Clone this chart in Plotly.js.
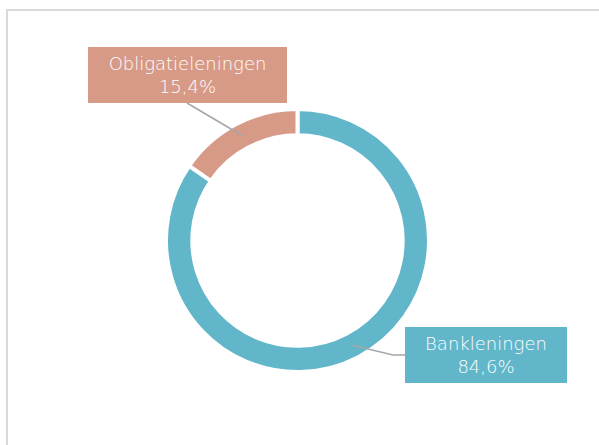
<!DOCTYPE html>
<html><head><meta charset="utf-8">
<script src="https://cdn.plot.ly/plotly-3.0.1.min.js"></script>
<style>html,body{margin:0;padding:0;background:#fff}#chart{width:599px;height:445px}</style>
</head><body><div id="chart"></div>
<script>
const labels = ["Bankleningen", "Obligatieleningen"];
const values = [84.6, 15.4];
const colors = ["#62b6ca", "#d79a87"];

const W = 599, H = 445;
const cx = 297.5, cy = 240.5, R = 131.5, hole = 0.8;
const px = x => x / W, py = y => 1 - y / H;

// slice mid-angles (clockwise from 12 o'clock)
const total = values.reduce((a, b) => a + b, 0);
let acc = 0;
const mids = values.map(v => { const m = (acc + v / 2) / total * 360; acc += v; return m; });
const rMid = R * (1 + hole) / 2;
const midPt = i => {
  const a = mids[i] * Math.PI / 180;
  return [cx + rMid * Math.sin(a), cy - rMid * Math.cos(a)];
};
const fmt = v => v.toFixed(1).replace('.', ',') + '%';

// label boxes (layout positions in px)
const boxes = [
  {x0: 405, y0: 327, x1: 567, y1: 383},
  {x0: 88, y0: 47, x1: 287, y1: 103}
];

const p0 = midPt(0), p1 = midPt(1);
const shapes = [
  {type: 'rect', xref: 'paper', yref: 'paper', x0: px(7), x1: px(640), y0: py(10), y1: py(480),
   line: {color: '#d9d9d9', width: 2}, fillcolor: 'rgba(0,0,0,0)'},
  {type: 'path', xref: 'paper', yref: 'paper',
   path: `M ${px(p0[0])} ${py(p0[1])} L ${px(393)} ${py(355)} L ${px(boxes[0].x0)} ${py(355)}`,
   line: {color: '#a6a6a6', width: 1.5}},
  {type: 'line', xref: 'paper', yref: 'paper', x0: px(p1[0]), y0: py(p1[1]), x1: px(187), y1: py(boxes[1].y1),
   line: {color: '#a6a6a6', width: 1.5}}
];

const annotations = labels.map((l, i) => {
  const b = boxes[i];
  return {
    xref: 'paper', yref: 'paper', x: px((b.x0 + b.x1) / 2), y: py((b.y0 + b.y1) / 2),
    xanchor: 'center', yanchor: 'middle', showarrow: false,
    text: l + '<br>' + fmt(values[i]),
    width: b.x1 - b.x0, height: b.y1 - b.y0, borderpad: 0, borderwidth: 0,
    bgcolor: colors[i], font: {family: 'DejaVu Sans', size: 18, weight: 200, color: '#ffffff'}, align: 'center', valign: 'middle'
  };
});

const trace = {
  type: 'pie', labels: labels, values: values, hole: hole, sort: false, direction: 'clockwise', rotation: 0,
  marker: {colors: colors, line: {color: '#ffffff', width: 4}},
  textinfo: 'none', hoverinfo: 'label+percent',
  domain: {x: [px(cx - R), px(cx + R)], y: [py(cy + R), py(cy - R)]}
};

Plotly.newPlot('chart', [trace], {
  width: W, height: H, margin: {l: 0, r: 0, t: 0, b: 0}, showlegend: false,
  paper_bgcolor: '#ffffff', shapes: shapes, annotations: annotations
}, {displayModeBar: false, staticPlot: true});
</script></body></html>
